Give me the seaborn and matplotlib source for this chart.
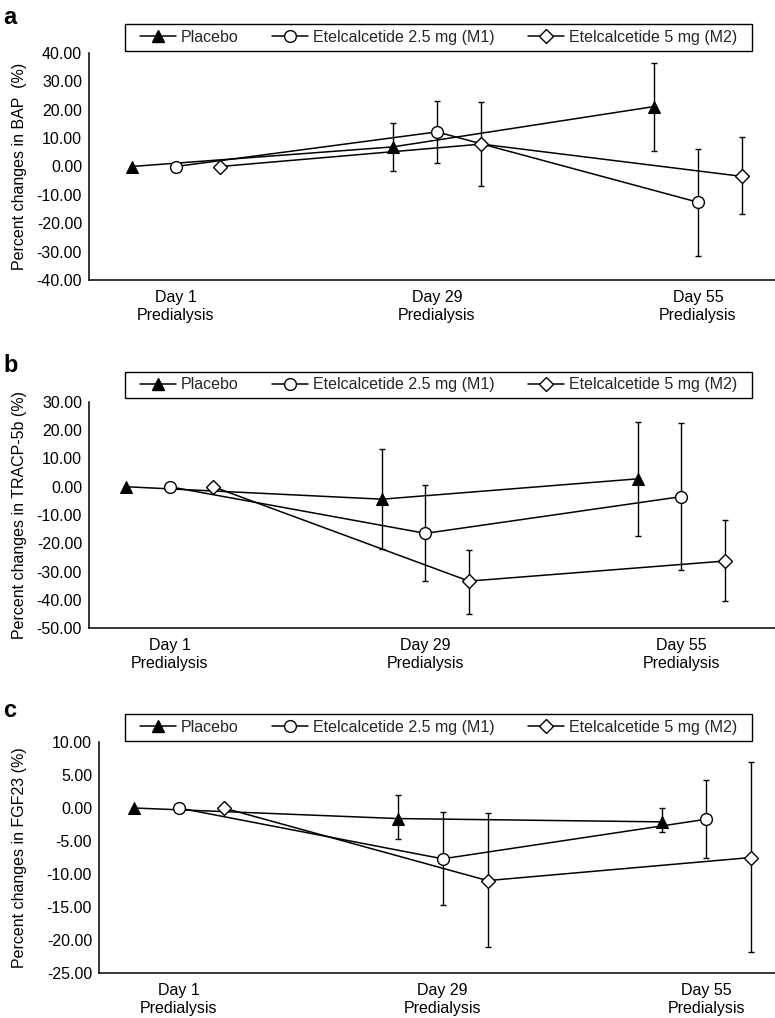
import matplotlib
matplotlib.use("Agg")
import matplotlib.pyplot as plt
from matplotlib.lines import Line2D
from matplotlib.patches import Rectangle
import numpy as np
import pandas as pd
import seaborn as sns

# ---------------- data ----------------
days = ["Day 1\nPredialysis", "Day 29\nPredialysis", "Day 55\nPredialysis"]
series = ["Placebo", "Etelcalcetide 2.5 mg (M1)", "Etelcalcetide 5 mg (M2)"]

# Panel a: BAP
bap_placebo = [0.0, 6.9, 21.1]
bap_placebo_lo = [0.0, -1.5, 5.5]
bap_placebo_hi = [0.0, 15.5, 36.4]
bap_m1 = [0.0, 12.2, -12.6]
bap_m1_lo = [0.0, 1.3, -31.6]
bap_m1_hi = [0.0, 23.1, 6.1]
bap_m2 = [0.0, 7.9, -3.5]
bap_m2_lo = [0.0, -6.7, -16.6]
bap_m2_hi = [0.0, 22.7, 10.4]

# Panel b: TRACP-5b
tr_placebo = [0.0, -4.4, 2.8]
tr_placebo_lo = [0.0, -22.2, -17.6]
tr_placebo_hi = [0.0, 13.2, 23.0]
tr_m1 = [0.0, -16.5, -3.5]
tr_m1_lo = [0.0, -33.4, -29.4]
tr_m1_hi = [0.0, 0.6, 22.4]
tr_m2 = [0.0, -33.4, -26.3]
tr_m2_lo = [0.0, -45.0, -40.4]
tr_m2_hi = [0.0, -22.3, -11.8]

# Panel c: FGF23
fg_placebo = [0.0, -1.6, -2.1]
fg_placebo_lo = [0.0, -4.7, -3.7]
fg_placebo_hi = [0.0, 2.0, 0.0]
fg_m1 = [0.0, -7.7, -1.7]
fg_m1_lo = [0.0, -14.7, -7.6]
fg_m1_hi = [0.0, -0.6, 4.2]
fg_m2 = [0.0, -11.0, -7.5]
fg_m2_lo = [0.0, -21.1, -21.8]
fg_m2_hi = [0.0, -0.8, 7.0]

ylabels = ["Percent changes in BAP  (%)", "Percent changes in TRACP-5b (%)",
           "Percent changes in FGF23 (%)"]
yticks_a = [40, 30, 20, 10, 0, -10, -20, -30, -40]
yticks_b = [30, 20, 10, 0, -10, -20, -30, -40, -50]
yticks_c = [10, 5, 0, -5, -10, -15, -20, -25]

# ---------------- style ----------------
sns.set_style("white")
plt.rcParams["font.family"] = ["Liberation Sans", "DejaVu Sans"]
plt.rcParams["axes.linewidth"] = 1.1

W, H = 775, 1018
fig = plt.figure(figsize=(W / 100, H / 100), dpi=100)

offsets = [-0.17, 0.0, 0.17]
marker_styles = [
    dict(marker="^", markersize=8.5, markerfacecolor="black", markeredgecolor="black"),
    dict(marker="o", markersize=8.5, markerfacecolor="white", markeredgecolor="black", markeredgewidth=1.0),
    dict(marker="D", markersize=7, markerfacecolor="white", markeredgecolor="black", markeredgewidth=1.0),
]

panels = [
    dict(letter="a", rect=(89, 53, 280), xlim=(-0.333, 2.295), ylim=(-40, 40), yticks=yticks_a,
         legend=(24, 51), letter_y=24,
         data=[(bap_placebo, bap_placebo_lo, bap_placebo_hi), (bap_m1, bap_m1_lo, bap_m1_hi),
               (bap_m2, bap_m2_lo, bap_m2_hi)]),
    dict(letter="b", rect=(89, 402, 628), xlim=(-0.316, 2.367), ylim=(-50, 30), yticks=yticks_b,
         legend=(372, 398), letter_y=372,
         data=[(tr_placebo, tr_placebo_lo, tr_placebo_hi), (tr_m1, tr_m1_lo, tr_m1_hi),
               (tr_m2, tr_m2_lo, tr_m2_hi)]),
    dict(letter="c", rect=(99, 742, 973), xlim=(-0.303, 2.26), ylim=(-25, 10), yticks=yticks_c,
         legend=(714, 741), letter_y=717,
         data=[(fg_placebo, fg_placebo_lo, fg_placebo_hi), (fg_m1, fg_m1_lo, fg_m1_hi),
               (fg_m2, fg_m2_lo, fg_m2_hi)]),
]

FS = 11.5

for i, p in enumerate(panels):
    left, top, bottom = p["rect"]
    ax = fig.add_axes([left / W, 1 - bottom / H, (W - left) / W, (bottom - top) / H])
    for s_idx, (name, (vals, lo, hi)) in enumerate(zip(series, p["data"])):
        x = np.arange(len(days)) + offsets[s_idx]
        v = np.array(vals)
        yerr = np.vstack([v - np.array(lo), np.array(hi) - v])
        ax.errorbar(x, v, yerr=yerr, fmt="none", ecolor="black", elinewidth=1.0,
                    capsize=2.2, capthick=1.0, zorder=1)
        df = pd.DataFrame({"x": x, "value": v})
        sns.lineplot(data=df, x="x", y="value", ax=ax, color="black", lw=1.1,
                     legend=False, zorder=3, **marker_styles[s_idx])
    ax.set_xlim(*p["xlim"])
    ax.set_ylim(*p["ylim"])
    ax.set_yticks(p["yticks"])
    ax.set_yticklabels([f"{t:.2f}" for t in p["yticks"]])
    ax.set_xticks(range(len(days)))
    ax.set_xticklabels(days, linespacing=1.25)
    ax.set_xlabel("")
    ax.set_ylabel("")
    for sp in ["top", "right"]:
        ax.spines[sp].set_visible(False)
    for sp in ["left", "bottom"]:
        ax.spines[sp].set_color("black")
        ax.spines[sp].set_linewidth(1.1)
    ax.tick_params(axis="y", direction="out", length=3, width=1, pad=2,
                   labelsize=FS, colors="black")
    ax.tick_params(axis="x", direction="in", length=3, width=1, pad=7,
                   labelsize=FS, colors="black")

    # y label
    fig.text(20 / W, 1 - ((top + bottom) / 2) / H, ylabels[i], rotation=90,
             ha="center", va="center", fontsize=FS, color="black")
    # panel letter
    fig.text(3 / W, 1 - p["letter_y"] / H, p["letter"], fontsize=17,
             fontweight="bold", ha="left", va="baseline", color="black")

    # legend box
    lt, lb = p["legend"]
    fig.patches.append(Rectangle((125 / W, 1 - lb / H), (752 - 125) / W, (lb - lt) / H,
                                 transform=fig.transFigure, fill=False,
                                 edgecolor="black", linewidth=1.0))
    handles = [Line2D([0], [0], color="black", lw=1.1, **marker_styles[k]) for k in range(3)]
    fig.legend(handles, series, loc="center", ncol=3, frameon=False,
               bbox_to_anchor=(438.5 / W, 1 - ((lt + lb) / 2) / H),
               fontsize=FS, handlelength=2.25, handletextpad=0.3,
               columnspacing=2.1, borderpad=0, numpoints=1)

fig.savefig("out.png", dpi=100)
